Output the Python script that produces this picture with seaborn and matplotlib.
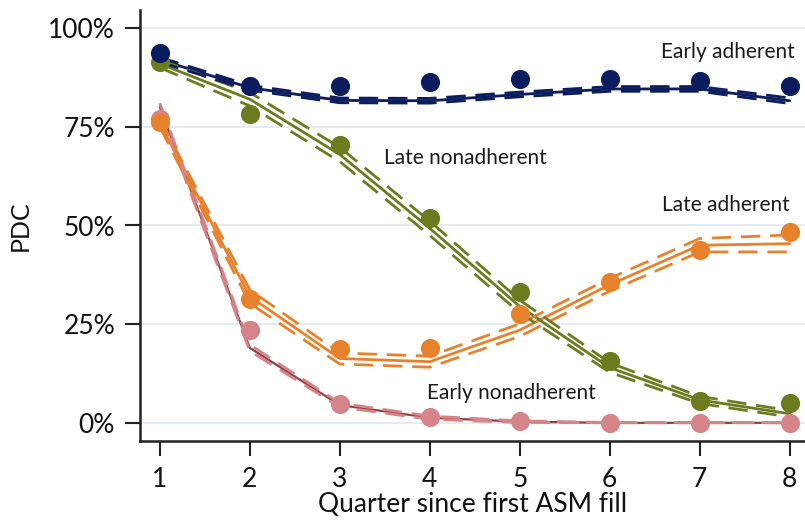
import numpy as np
import pandas as pd
import matplotlib
matplotlib.use("Agg")
import matplotlib.pyplot as plt
import seaborn as sns

quarters = [1, 2, 3, 4, 5, 6, 7, 8]

groups = ["Early adherent", "Late nonadherent", "Late adherent", "Early nonadherent"]

ea_obs = [93.7, 85.3, 85.3, 86.3, 87.0, 87.0, 86.5, 85.3]
ln_obs = [91.5, 78.3, 70.3, 51.8, 33.2, 15.7, 5.6, 5.1]
la_obs = [76.3, 31.5, 18.7, 19.0, 27.6, 35.8, 43.9, 48.4]
en_obs = [77.0, 23.5, 4.9, 1.5, 0.4, 0.0, 0.0, 0.0]

ea_fit = [92.0, 84.9, 81.7, 81.6, 83.2, 84.6, 84.6, 81.6]
ln_fit = [91.0, 82.0, 68.0, 49.3, 29.5, 14.0, 5.8, 2.3]
la_fit = [76.0, 32.0, 16.3, 15.5, 23.5, 35.0, 45.0, 45.4]
en_fit = [80.0, 19.0, 4.5, 1.3, 0.3, 0.0, 0.0, 0.0]

ea_lo = [91.4, 84.3, 81.1, 81.0, 82.6, 84.0, 84.0, 80.9]
ea_hi = [92.6, 85.5, 82.3, 82.2, 83.8, 85.2, 85.2, 82.3]
ln_lo = [90.0, 80.3, 66.2, 47.5, 27.9, 12.8, 4.9, 1.5]
ln_hi = [92.0, 83.7, 69.8, 51.1, 31.1, 15.2, 6.7, 3.1]
la_lo = [75.0, 30.3, 14.9, 14.1, 21.9, 33.4, 43.3, 43.3]
la_hi = [77.0, 33.7, 17.7, 16.9, 25.1, 36.6, 46.7, 47.6]
en_lo = [79.0, 18.2, 4.0, 0.9, 0.1, 0.0, 0.0, 0.0]
en_hi = [81.0, 19.8, 5.0, 1.7, 0.5, 0.1, 0.1, 0.1]

colors = {
    "Early adherent": "#0b1d5e",
    "Late nonadherent": "#6b7c1f",
    "Late adherent": "#e8812c",
    "Early nonadherent": "#d5858a",
}
fit_colors = {
    "Early adherent": "#0b1d5e",
    "Late nonadherent": "#6b7c1f",
    "Late adherent": "#e8812c",
    "Early nonadherent": "#8e4040",
}

obs = {"Early adherent": ea_obs, "Late nonadherent": ln_obs,
       "Late adherent": la_obs, "Early nonadherent": en_obs}
fit = {"Early adherent": ea_fit, "Late nonadherent": ln_fit,
       "Late adherent": la_fit, "Early nonadherent": en_fit}
lo = {"Early adherent": ea_lo, "Late nonadherent": ln_lo,
      "Late adherent": la_lo, "Early nonadherent": en_lo}
hi = {"Early adherent": ea_hi, "Late nonadherent": ln_hi,
      "Late adherent": la_hi, "Early nonadherent": en_hi}

label_pos = {
    "Early adherent": (7.31, 94.0),
    "Late nonadherent": (4.40, 67.0),
    "Late adherent": (7.29, 55.1),
    "Early nonadherent": (4.91, 7.6),
}

sns.set_theme(style="white")
plt.rcParams["font.family"] = ["Lato", "DejaVu Sans"]

fig = plt.figure(figsize=(8.05, 5.23), dpi=100)
ax = fig.add_axes([140 / 805, (523 - 441) / 523, (805 - 140) / 805, (441 - 10) / 523])

draw_order = ["Early nonadherent", "Late adherent", "Late nonadherent", "Early adherent"]
for g in draw_order:
    df = pd.DataFrame({"q": quarters, "fit": fit[g], "lo": lo[g], "hi": hi[g], "obs": obs[g]})
    fit_lw = 1.6 if g == "Early nonadherent" else 2.0
    sns.lineplot(data=df, x="q", y="fit", ax=ax, color=fit_colors[g], linewidth=fit_lw, zorder=3)
    sns.lineplot(data=df, x="q", y="lo", ax=ax, color=colors[g], linewidth=2.0,
                 linestyle=(0, (7, 3.5)), zorder=4)
    sns.lineplot(data=df, x="q", y="hi", ax=ax, color=colors[g], linewidth=2.0,
                 linestyle=(0, (7, 3.5)), zorder=4)

for g in draw_order:
    df = pd.DataFrame({"q": quarters, "obs": obs[g]})
    sns.scatterplot(data=df, x="q", y="obs", ax=ax, color=colors[g], s=190,
                    linewidth=0, zorder=5)

for g in groups:
    x, y = label_pos[g]
    ax.text(x, y, g, ha="center", va="center", fontsize=15, color="#1a1a1a", zorder=6)

ax.set_xlim(0.78, 8.17)
ax.set_ylim(-4.6, 104.6)
ax.set_xticks(quarters)
ax.set_xticklabels([str(q) for q in quarters])
ax.set_yticks([0, 25, 50, 75, 100])
ax.set_yticklabels(["0%", "25%", "50%", "75%", "100%"])
ax.tick_params(axis="both", direction="out", length=11, width=1.5, color="#222222",
               labelsize=19, labelcolor="#111111", left=True, bottom=True)
ax.tick_params(axis="x", pad=8)
ax.tick_params(axis="y", pad=7)
ax.yaxis.grid(True, color="#e4ecf1", linewidth=1.5)
ax.xaxis.grid(False)
ax.set_axisbelow(True)
for side in ["top", "right"]:
    ax.spines[side].set_visible(False)
for side in ["left", "bottom"]:
    ax.spines[side].set_color("#222222")
    ax.spines[side].set_linewidth(1.8)

ax.set_xlabel("Quarter since first ASM fill", fontsize=19, color="#111111", labelpad=0)
ax.set_ylabel("PDC", fontsize=18, color="#111111", labelpad=12)

fig.savefig("out.png", dpi=100)
